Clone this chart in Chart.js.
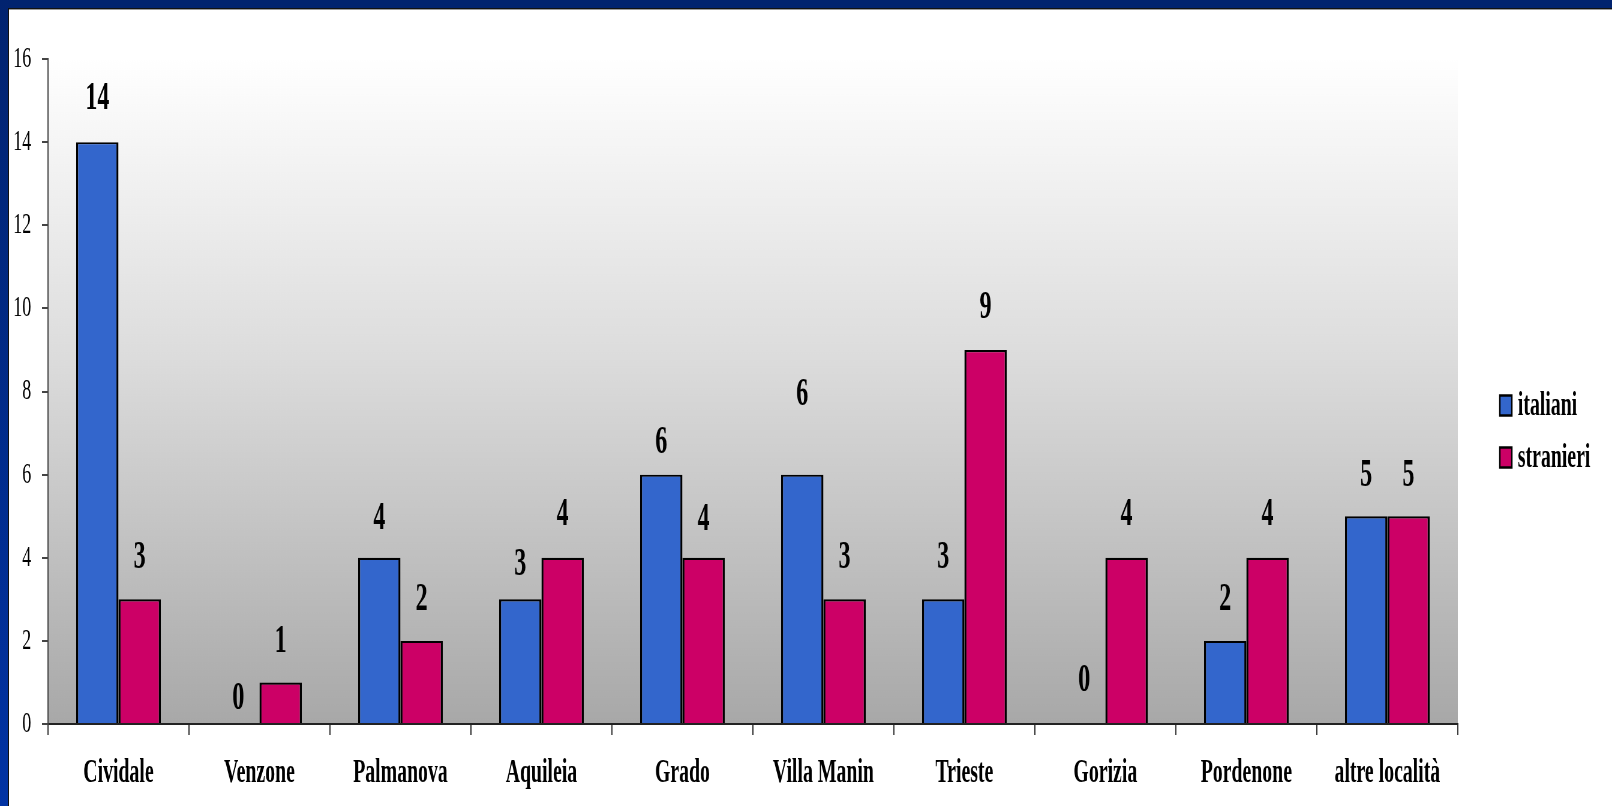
<!DOCTYPE html>
<html>
<head>
<meta charset="utf-8">
<script src="https://cdn.jsdelivr.net/npm/chart.js@4/dist/chart.umd.min.js"></script>
<style>
  html, body { margin: 0; padding: 0; background: #ffffff; overflow: hidden; }
  #wrap { position: relative; width: 1612px; height: 806px; }
  #c { position: absolute; left: 0; top: 0; }
  .topbar { position: absolute; left: 0; top: 0; width: 1612px; height: 8px; background: #01236f; }
  .topline { position: absolute; left: 8px; top: 8px; width: 1604px; height: 1px; background: #111; }
  .topshadow { position: absolute; left: 8px; top: 9px; width: 1604px; height: 1px; background: #9a9a9a; }
  .leftbar { position: absolute; left: 0; top: 0; width: 8px; height: 806px; background: linear-gradient(#01236f, #0233a3); }
  .leftline { position: absolute; left: 8px; top: 8px; width: 1px; height: 798px; background: #111; }
</style>
</head>
<body>
<div id="wrap">
  <canvas id="c" width="2687" height="806" style="width:1612px;height:806px;"></canvas>
  <div class="topbar"></div>
  <div class="topline"></div>
  <div class="topshadow"></div>
  <div class="leftbar"></div>
  <div class="leftline"></div>
</div>
<script>
// ---- data ----
const categories = ['Cividale', 'Venzone', 'Palmanova', 'Aquileia', 'Grado', 'Villa Manin', 'Trieste', 'Gorizia', 'Pordenone', 'altre località'];
const italiani   = [14, 0, 4, 3, 6, 6, 3, 0, 2, 5];
const stranieri  = [3, 1, 2, 4, 4, 3, 9, 4, 4, 5];
const seriesNames = ['italiani', 'stranieri'];
const yMin = 0, yMax = 16, yStep = 2;

// ---- styles (label lift above bar top, px) ----
const labelLift = [
  [43, 25, 39, 35, 32, 80, 42, 43, 41, 41],
  [42, 41, 41, 43, 38, 42, 42, 43, 43, 41]
];
const FONT = '"Liberation Serif", "Times New Roman", serif';
const BLUE = '#3366cc', PINK = '#cc0066';
const BAR_BORDER = { top: 2.2, left: 3.4, right: 3.4, bottom: 0 };

const bgPlugin = {
  id: 'plotBg',
  beforeDraw(chart) {
    const {ctx, chartArea: a} = chart;
    const g = ctx.createLinearGradient(0, a.top, 0, a.bottom);
    g.addColorStop(0, '#ffffff');
    g.addColorStop(0.45, '#dcdcdc');
    g.addColorStop(1, '#a8a8a8');
    ctx.save();
    ctx.fillStyle = g;
    ctx.fillRect(a.left, a.top, a.right - a.left, a.bottom - a.top);
    ctx.restore();
  }
};

const labelPlugin = {
  id: 'valueLabels',
  afterDatasetsDraw(chart) {
    const {ctx} = chart;
    const ys = chart.scales.y;
    ctx.save();
    ctx.font = 'bold 40px ' + FONT;
    ctx.fillStyle = '#000';
    ctx.textAlign = 'center';
    ctx.textBaseline = 'middle';
    chart.data.datasets.forEach((ds, di) => {
      const meta = chart.getDatasetMeta(di);
      meta.data.forEach((bar, i) => {
        const v = ds.data[i];
        const y = ys.getPixelForValue(v) - labelLift[di][i];
        ctx.fillText(String(v), bar.x, y);
      });
    });
    ctx.restore();
  }
};

const legendPlugin = {
  id: 'customLegend',
  afterDraw(chart) {
    const {ctx, chartArea: a} = chart;
    const mid = (a.top + a.bottom) / 2 + 40;
    const rows = [mid - 26, mid + 26];
    ctx.save();
    ctx.font = 'bold 33px ' + FONT;
    ctx.textBaseline = 'middle';
    ctx.textAlign = 'left';
    chart.data.datasets.forEach((ds, di) => {
      const y = rows[di];
      const bx = a.right + 70;
      ctx.fillStyle = ds.backgroundColor;
      ctx.fillRect(bx, y - 10, 20, 20);
      ctx.lineWidth = 2.5;
      ctx.strokeStyle = '#000';
      ctx.strokeRect(bx, y - 10, 20, 20);
      ctx.fillStyle = '#000';
      ctx.fillText(ds.label, bx + 30, y + 1);
    });
    ctx.restore();
  }
};

new Chart(document.getElementById('c'), {
  type: 'bar',
  data: {
    labels: categories,
    datasets: [
      { label: seriesNames[0], data: italiani, backgroundColor: BLUE, borderColor: '#000', borderWidth: BAR_BORDER, borderSkipped: false },
      { label: seriesNames[1], data: stranieri, backgroundColor: PINK, borderColor: '#000', borderWidth: BAR_BORDER, borderSkipped: false }
    ]
  },
  options: {
    responsive: false,
    devicePixelRatio: 1,
    animation: false,
    layout: { padding: { top: 59, right: 257, bottom: 0, left: 0 } },
    datasets: { bar: { categoryPercentage: 0.6, barPercentage: 1.0 } },
    plugins: { legend: { display: false }, tooltip: { enabled: false } },
    scales: {
      x: {
        offset: true,
        grid: { display: true, drawOnChartArea: false, drawTicks: true, tickLength: 11, offset: true, color: '#333', lineWidth: 2 },
        border: { display: true, color: '#222', width: 2 },
        ticks: { color: '#000', font: { family: FONT, size: 33, weight: 'bold' }, padding: 19, maxRotation: 0, autoSkip: false },
        afterFit(s) { s.height = 82; }
      },
      y: {
        min: yMin, max: yMax,
        ticks: { stepSize: yStep, color: '#000', font: { family: FONT, size: 30 }, padding: 18 },
        grid: { display: true, drawOnChartArea: false, drawTicks: true, tickLength: 10, color: '#444', lineWidth: 2 },
        border: { display: true, color: '#444', width: 2 },
        afterFit(s) { s.width = 80; }
      }
    }
  },
  plugins: [bgPlugin, labelPlugin, legendPlugin]
});
</script>
</body>
</html>
